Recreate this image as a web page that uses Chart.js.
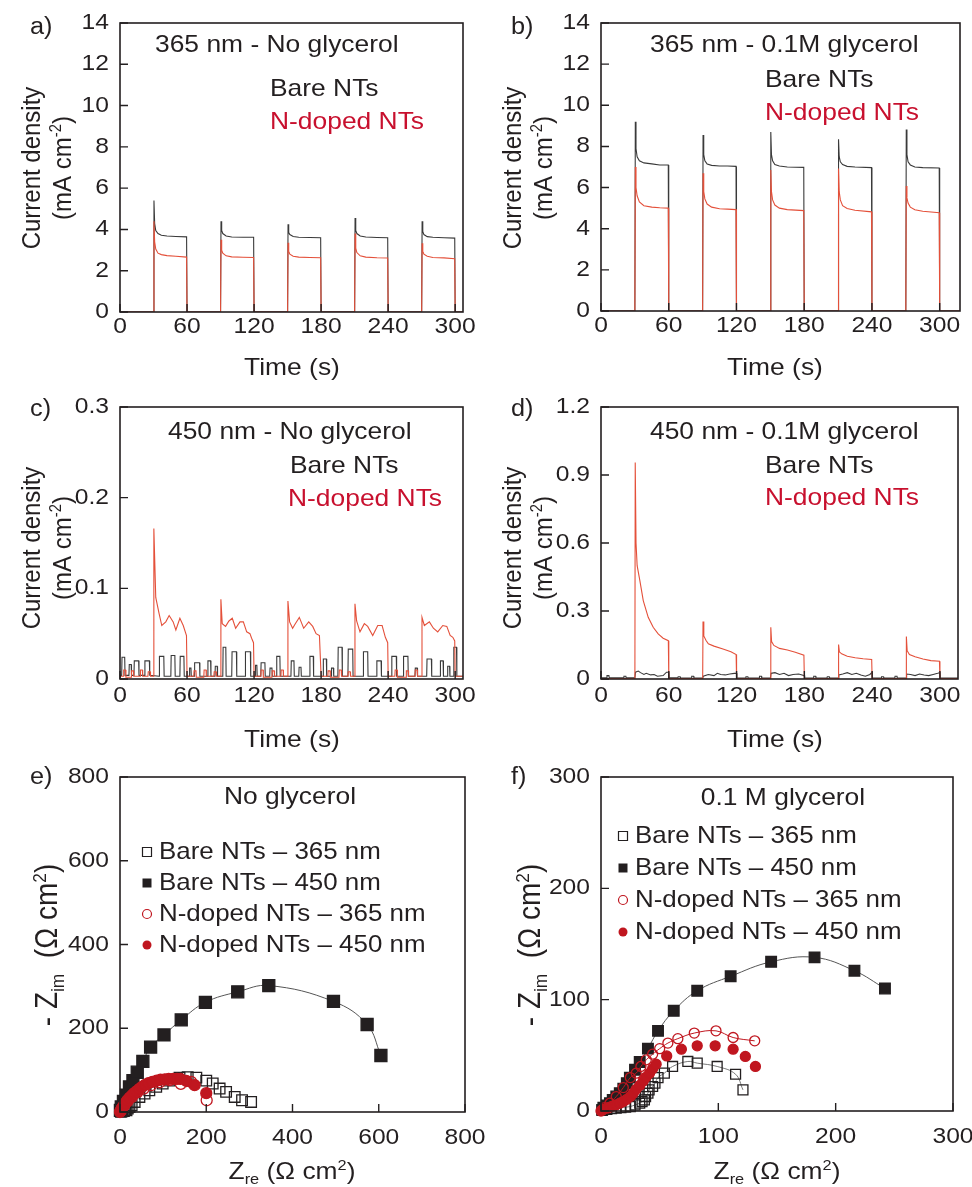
<!DOCTYPE html>
<html>
<head>
<meta charset="utf-8">
<script src="https://cdn.jsdelivr.net/npm/chart.js@4.4.1/dist/chart.umd.min.js"></script>
<style>
html, body { margin: 0; padding: 0; background: #fff; }
#fig { position: relative; width: 972px; height: 1187px; overflow: hidden; }
canvas { position: absolute; }
</style>
</head>
<body>
<div id="fig"></div>
<script>
// ---- tick values ----
const timeTicks = [0, 60, 120, 180, 240, 300];
const yTicksA = [0, 2, 4, 6, 8, 10, 12, 14];
const yTicksC = [0, 0.1, 0.2, 0.3];
const yTicksD = [0, 0.3, 0.6, 0.9, 1.2];
const eisTicksE = [0, 200, 400, 600, 800];
const eisTicksF = [0, 100, 200, 300];

// ---- a) 365 nm, no glycerol : [time s, mA cm-2] ----
const aBare = [[0,0],[30,0],[30.4,5.4],[31,4.3],[32,3.95],[34,3.8],[37,3.72],[42,3.68],[50,3.66],[59.6,3.64],[60,0],
  [90,0],[90.4,4.4],[91,3.95],[92,3.8],[95,3.68],[100,3.63],[110,3.62],[119.6,3.62],[120,0],
  [150,0],[150.4,4.25],[151,3.85],[152,3.75],[155,3.66],[160,3.62],[170,3.61],[179.6,3.6],[180,0],
  [210,0],[210.4,4.55],[211,3.95],[212,3.8],[215,3.68],[220,3.63],[230,3.61],[239.6,3.6],[240,0],
  [270,0],[270.4,4.4],[271,3.9],[272,3.75],[275,3.65],[280,3.62],[290,3.6],[299.6,3.58],[300,0],[307,0]];
const aNdoped = [[0,0],[30,0],[30.4,4.4],[31,3.4],[32,3.05],[34,2.85],[37,2.78],[42,2.73],[50,2.7],[59.6,2.66],[60,0],
  [90,0],[90.4,3.5],[91,3.0],[92,2.85],[95,2.72],[100,2.67],[110,2.65],[119.6,2.64],[120,0],
  [150,0],[150.4,3.35],[151,2.95],[152,2.8],[155,2.7],[160,2.66],[170,2.64],[179.6,2.63],[180,0],
  [210,0],[210.4,3.8],[211,3.1],[212,2.88],[215,2.72],[220,2.66],[230,2.63],[239.6,2.62],[240,0],
  [270,0],[270.4,3.33],[271,2.95],[272,2.8],[275,2.7],[280,2.64],[290,2.62],[299.6,2.58],[300,0],[307,0]];

// ---- b) 365 nm, 0.1 M glycerol ----
const bBare = [[0,0],[30,0],[30.4,9.2],[31,7.9],[32,7.5],[34,7.3],[38,7.2],[45,7.15],[52,7.1],[59.6,7.1],[60,0],
  [90,0],[90.4,8.55],[91,7.6],[92,7.3],[94,7.15],[98,7.08],[105,7.05],[112,7.05],[119.6,7.03],[120,0],
  [150,0],[150.4,8.7],[151,7.6],[152,7.3],[154,7.12],[158,7.05],[165,7.0],[179.6,6.98],[180,0],
  [210,0],[210.4,8.35],[211,7.5],[212,7.25],[214,7.12],[218,7.03],[225,7.0],[239.6,6.97],[240,0],
  [270,0],[270.4,8.82],[271,7.6],[272,7.25],[274,7.1],[278,7.0],[285,6.97],[299.6,6.95],[300,0],[318,0]];
const bNdoped = [[0,0],[30,0],[30.4,7.0],[31,6.0],[32,5.6],[34,5.3],[38,5.12],[45,5.05],[52,5.02],[59.6,5.0],[60,0],
  [90,0],[90.4,6.7],[91,5.8],[92,5.45],[94,5.2],[98,5.05],[105,4.97],[112,4.95],[119.6,4.93],[120,0],
  [150,0],[150.4,6.85],[151,5.8],[152,5.4],[154,5.15],[158,5.0],[165,4.93],[179.6,4.88],[180,0],
  [210,0],[210.4,6.93],[211,5.8],[212,5.4],[214,5.12],[218,4.98],[225,4.9],[239.6,4.82],[240,0],
  [270,0],[270.4,6.08],[271,5.5],[272,5.25],[274,5.05],[278,4.92],[285,4.85],[299.6,4.78],[300,0],[318,0]];

// ---- c) 450 nm, no glycerol ----
const cBare = [[0,0.004],[1.5,0.004],[1.8,0.024],[4.2,0.024],[4.5,0.004],[8,0.004],[8.3,0.016],[10,0.016],[10.3,0.004],
  [12.5,0.004],[12.8,0.02],[16.7,0.02],[17,0.004],[22,0.004],[22.3,0.02],[26.3,0.02],[26.6,0.004],
  [35,0.003],[35.3,0.025],[39.2,0.025],[39.5,0.003],[45.5,0.003],[45.8,0.026],[49.1,0.026],[49.4,0.003],
  [53.6,0.003],[53.9,0.025],[57.2,0.025],[57.5,0.003],[62,0.003],[62.3,0.012],[63.5,0.012],[63.8,0.003],
  [66.5,0.003],[66.8,0.018],[71.2,0.018],[71.5,0.003],[78.4,0.003],[78.7,0.02],[81.1,0.02],[81.4,0.003],
  [85,0.003],[85.3,0.014],[87,0.014],[87.3,0.003],[92,0.003],[92.3,0.035],[94.7,0.035],[95,0.003],
  [100,0.003],[100.3,0.03],[104.2,0.03],[104.5,0.003],[112,0.003],[112.3,0.03],[116.7,0.03],[117,0.003],
  [121,0.003],[121.3,0.015],[122.5,0.015],[122.8,0.003],[126,0.003],[126.3,0.018],[129.7,0.018],[130,0.003],
  [134,0.003],[134.3,0.012],[136,0.012],[136.3,0.003],[140,0.003],[140.3,0.025],[143.1,0.025],[143.4,0.003],
  [153,0.003],[153.3,0.02],[155.7,0.02],[156,0.003],[160,0.003],[160.3,0.013],[162,0.013],[162.3,0.003],
  [169.7,0.003],[170,0.025],[173,0.025],[173.3,0.003],[181.7,0.003],[182,0.022],[184.7,0.022],[185,0.003],
  [189,0.003],[189.3,0.012],[191,0.012],[191.3,0.003],[195,0.003],[195.3,0.035],[198.7,0.035],[199,0.003],
  [204,0.003],[204.3,0.033],[208.3,0.033],[208.6,0.003],[217.6,0.003],[217.9,0.03],[221.7,0.03],[222,0.003],
  [229.6,0.003],[229.9,0.02],[233.7,0.02],[234,0.003],[243,0.003],[243.3,0.025],[247.3,0.025],[247.6,0.003],
  [253.5,0.003],[253.8,0.025],[257.7,0.025],[258,0.003],[264,0.003],[264.3,0.012],[266,0.012],[266.3,0.003],
  [274.5,0.003],[274.8,0.022],[278.7,0.022],[279,0.003],[286.5,0.003],[286.8,0.02],[289.2,0.02],[289.5,0.003],
  [293,0.003],[293.3,0.014],[295,0.014],[295.3,0.003],[298.5,0.003],[298.8,0.035],[301.2,0.035],[301.5,0.003],[307,0.003]];
const cNdoped = [[0,0.003],[3,0.003],[3.3,0.01],[5,0.01],[5.3,0.002],[10,0.002],[10.3,0.009],[12,0.009],[12.3,0.003],
  [18,0.003],[18.3,0.01],[20,0.01],[20.3,0.003],[25,0.003],[25.3,0.008],[27,0.008],[27.3,0.003],[30,0.003],
  [30.3,0.166],[32,0.09],[35,0.072],[37.4,0.059],[41,0.063],[44,0.07],[47.6,0.063],[50,0.054],[53.6,0.067],[56.6,0.059],[59.5,0.048],[60,0.003],
  [66,0.003],[66.3,0.009],[68,0.009],[68.3,0.002],[75,0.002],[75.3,0.01],[77,0.01],[77.3,0.003],[84,0.003],[84.3,0.008],[86,0.008],[86.3,0.003],[90,0.003],
  [90.3,0.088],[91.5,0.061],[94.5,0.058],[97.5,0.064],[100.5,0.067],[103.5,0.056],[107.4,0.063],[110.4,0.063],[113.4,0.052],[116.3,0.05],[117.8,0.045],[119.5,0.04],[120,0.003],
  [126,0.003],[126.3,0.01],[128,0.01],[128.3,0.002],[136,0.002],[136.3,0.009],[138,0.009],[138.3,0.003],[144,0.003],[144.3,0.01],[146,0.01],[146.3,0.003],[150,0.003],
  [150.3,0.086],[151.8,0.063],[154.5,0.056],[156.9,0.061],[160.5,0.068],[164.4,0.056],[168.9,0.063],[172.5,0.058],[175.5,0.05],[178.5,0.048],[180,0.003],
  [186,0.003],[186.3,0.009],[188,0.009],[188.3,0.002],[196,0.002],[196.3,0.01],[198,0.01],[198.3,0.003],[204,0.003],[204.3,0.008],[206,0.008],[206.3,0.003],[210,0.003],
  [210.3,0.083],[211.8,0.064],[214.8,0.052],[218.7,0.061],[221.7,0.058],[226.2,0.048],[230.7,0.059],[234.6,0.059],[237.5,0.046],[239.6,0.04],[240,0.003],
  [246,0.003],[246.3,0.01],[248,0.01],[248.3,0.002],[256,0.002],[256.3,0.009],[258,0.009],[258.3,0.003],[264,0.003],[264.3,0.01],[266,0.01],[266.3,0.003],[270,0.003],
  [270.3,0.068],[272.4,0.059],[276.9,0.063],[280.5,0.056],[284.4,0.052],[288.9,0.059],[292.5,0.058],[295.5,0.048],[297.9,0.046],[299.6,0.042],[300,0.003],[307,0.003]];

// ---- d) 450 nm, 0.1 M glycerol ----
const dBare = [[0,0.005],[5,0.005],[5.3,0.015],[7,0.015],[7.3,0.005],[20,0.005],[20.3,0.012],[22,0.012],[22.3,0.005],[30,0.005],
  [30.5,0.03],[33,0.035],[35,0.028],[38,0.02],[40,0.025],[44,0.018],[47,0.02],[50,0.012],[55,0.015],[58,0.03],[60,0.03],[60.3,0.005],
  [68,0.005],[68.3,0.01],[70,0.01],[70.3,0.004],[80,0.004],[80.3,0.012],[82,0.012],[82.3,0.004],[90,0.004],
  [90.5,0.012],[95,0.02],[100,0.015],[103,0.025],[106,0.02],[110,0.018],[114,0.022],[118,0.025],[120,0.025],[120.3,0.004],
  [128,0.004],[128.3,0.01],[130,0.01],[130.3,0.004],[140,0.004],[140.3,0.012],[142,0.012],[142.3,0.004],[150,0.004],
  [150.5,0.025],[154,0.028],[158,0.02],[162,0.025],[166,0.015],[170,0.02],[175,0.022],[178,0.018],[180,0.015],[180.3,0.004],
  [188,0.004],[188.3,0.012],[190,0.012],[190.3,0.004],[200,0.004],[200.3,0.01],[202,0.01],[202.3,0.004],[210,0.004],
  [210.5,0.018],[214,0.022],[218,0.028],[222,0.02],[226,0.025],[230,0.018],[234,0.012],[238,0.02],[240,0.03],[240.3,0.004],
  [248,0.004],[248.3,0.01],[250,0.01],[250.3,0.004],[260,0.004],[260.3,0.012],[262,0.012],[262.3,0.004],[270,0.004],
  [270.5,0.022],[274,0.02],[278,0.015],[282,0.022],[286,0.018],[290,0.015],[294,0.02],[298,0.025],[300,0.028],[300.3,0.004],[316,0.004]];
const dNdoped = [[0,0.002],[30,0.002],[30.3,0.955],[31,0.6],[32,0.5],[34.4,0.434],[37.4,0.346],[41.8,0.272],[46.2,0.228],[50.6,0.199],[55,0.18],[59.6,0.169],[60,0.002],
  [90,0.002],[90.3,0.254],[91,0.19],[93,0.17],[95,0.155],[100,0.145],[108,0.132],[115,0.12],[119.6,0.108],[120,0.002],
  [150,0.002],[150.3,0.228],[151,0.165],[153,0.148],[158,0.135],[165,0.128],[172,0.118],[179.6,0.105],[180,0.002],
  [210,0.002],[210.3,0.152],[211,0.12],[213,0.111],[218,0.1],[225,0.094],[232,0.089],[239.6,0.086],[240,0.002],
  [270,0.002],[270.3,0.187],[271,0.125],[273,0.108],[278,0.098],[285,0.088],[292,0.081],[299.6,0.078],[300,0.002],[316,0.002]];

// ---- e) EIS, no glycerol : [Zre, -Zim] ----
const eBare365 = [[2,0.5],[5,1.5],[9,2.5],[12,5],[15,4],[18,8],[22,12],[27,16],[34,24],[45,36],[57,44],[68,52],[84,60],[99,68],[115,75],[138,82],[157,83],[177,82],[200,75],[215,68],[231,56],[246,48],[266,36],[283,28],[304,24]];
const eBare450 = [[1,4],[3,12],[8,25],[15,40],[22,60],[30,75],[40,95],[53,121],[71,155],[102,184],[142,220],[198,262],[273,287],[345,302],[495,264],[573,209],[605,135]];
const eNdoped365 = [[1,2],[4,8],[10,16],[18,26],[28,36],[40,47],[55,56],[72,64],[92,71],[115,76],[141,67],[165,72],[201,28]];
const eNdoped450 = [[0,0],[2,4],[5,10],[9,16],[13,22],[17,28],[22,34],[28,40],[33,45],[39,50],[45,55],[51,60],[58,65],[66,69],[75,72],[85,75],[94,77],[104,78],[113,79],[123,79],[132,79],[140,79],[154,74],[173,64],[200,45]];

// ---- f) EIS, 0.1 M glycerol ----
const fBare365 = [[1,0.5],[5,1.5],[9,2],[13,2.5],[17,3],[21,3.5],[25,4],[29,5.5],[33,7],[35,8.5],[37,10],[38,13],[40,16],[41,19],[44,22],[46,25],[48.6,30],[54,34],[61,40],[74,44.5],[82,43],[99,40],[114.7,33],[121,19]];
const fBare450 = [[1,1],[2,3],[5,5],[7.6,7],[10,10],[13,13],[16,16],[19,20],[22,25],[24.6,30],[29,37],[33,44],[40,56],[48.6,72],[62,90],[82,108],[110.5,121],[145,134],[182,138],[216,126],[242,110]];
const fNdoped365 = [[1,1],[3,3],[7.6,7],[13,13],[19,21],[25,30],[30,34],[34,40],[38.6,46],[44,51],[50,56],[57,61],[65.5,65],[79.5,70],[98,72],[112.6,66],[131,63]];
const fNdoped450 = [[0,0],[2,1.5],[5,2.5],[7.6,3.5],[10,4.5],[13,5.5],[16,7],[19,8.5],[22,10.5],[25,13],[27.5,16],[30,19.5],[33,23],[36,27],[38.5,30.5],[41.4,34],[44,38],[47,42],[56,49.5],[68.5,55.5],[82,58.5],[97.3,58.5],[112.6,55.5],[123,49],[131.6,40]];

// ---- look ----
const INK = '#231f20';
const RED_TXT = '#c8102e';
const RED_LINE = '#e4503a';
const RED_MK = '#c0161f';
const FONT = '"Liberation Sans", Arial, Helvetica, sans-serif';
const SX = 1.1; // the figure is a little wider than tall, text too

function txt(ctx, s, x, y, size, color, align, sx) {
    sx = sx || SX;
    ctx.save();
    ctx.font = size + 'px ' + FONT;
    ctx.fillStyle = color || INK;
    ctx.textBaseline = 'middle';
    ctx.textAlign = 'left';
    const w = ctx.measureText(s).width * sx;
    const x0 = align === 'center' ? x - w / 2 : align === 'right' ? x - w : x;
    ctx.translate(x0, y);
    ctx.scale(sx, 1);
    ctx.fillText(s, 0, 0);
    ctx.restore();
}

// parts: [text, mode] with mode 1 = superscript, -1 = subscript
function rich(ctx, parts, x, y, size, rot) {
    ctx.save();
    ctx.translate(x, y);
    ctx.scale(SX, 1);
    if (rot) ctx.rotate(rot);
    ctx.fillStyle = INK;
    ctx.textBaseline = 'alphabetic';
    ctx.textAlign = 'left';
    let total = 0;
    parts.forEach(([t, m]) => {
        ctx.font = (m ? size * 0.62 : size) + 'px ' + FONT;
        total += ctx.measureText(t).width;
    });
    let cx = -total / 2;
    parts.forEach(([t, m]) => {
        ctx.font = (m ? size * 0.62 : size) + 'px ' + FONT;
        const dy = m === 1 ? -size * 0.36 : m === -1 ? size * 0.22 : 0;
        ctx.fillText(t, cx, size * 0.36 + dy);
        cx += ctx.measureText(t).width;
    });
    ctx.restore();
}

function marker(ctx, style, filled, color, x, y, r) {
    ctx.save();
    ctx.strokeStyle = color;
    ctx.fillStyle = color;
    ctx.lineWidth = 1.2;
    ctx.beginPath();
    if (style === 'rect') ctx.rect(x - r, y - r, 2 * r, 2 * r);
    else ctx.arc(x, y, r, 0, Math.PI * 2);
    if (filled) ctx.fill(); else ctx.stroke();
    ctx.restore();
}

// frame, inward ticks, labels, titles, notes and legend
const deco = {
    id: 'deco',
    afterDraw(chart) {
        const p = chart.canvas.panel;
        const ctx = chart.ctx, a = chart.chartArea;
        const ox = p.box[0], oy = p.box[1];
        const xs = chart.scales.x, ys = chart.scales.y;
        ctx.save();
        ctx.strokeStyle = INK;
        ctx.lineWidth = 1.6;
        ctx.strokeRect(a.left, a.top, a.right - a.left, a.bottom - a.top);
        ctx.lineWidth = 1.4;
        ctx.beginPath();
        xs.ticks.forEach(t => {
            const px = xs.getPixelForValue(t.value);
            ctx.moveTo(px, a.bottom); ctx.lineTo(px, a.bottom - 8);
        });
        ys.ticks.forEach(t => {
            const py = ys.getPixelForValue(t.value);
            ctx.moveTo(a.left, py); ctx.lineTo(a.left + 8, py);
        });
        ctx.stroke();
        ctx.restore();

        xs.ticks.forEach(t => txt(ctx, String(t.value), xs.getPixelForValue(t.value), a.bottom + p.xLabGap, 22, INK, 'center', 1.12));
        ys.ticks.forEach(t => txt(ctx, String(t.value), a.left - p.yLabGap, ys.getPixelForValue(t.value), 22, INK, 'right', 1.12));

        txt(ctx, p.tag, p.tagPos[0] - ox, p.tagPos[1] - oy, 23, INK, 'left');
        rich(ctx, p.xTitle, p.xTitlePos[0] - ox, p.xTitlePos[1] - oy, 24, 0);
        p.yTitle.forEach((line, i) => rich(ctx, line, p.yTitlePos[i][0] - ox, p.yTitlePos[i][1] - oy, p.yTitleSize || 24, -Math.PI / 2));
        p.notes.forEach(n => txt(ctx, n[0], n[1] - ox, n[2] - oy, 24, n[3], n[4] || 'left'));

        if (p.legend) {
            const L = p.legend;
            L.rows.forEach((row, i) => {
                const ds = chart.data.datasets[row];
                const y = L.y - oy + i * L.dy;
                const filled = ds.pointBackgroundColor !== 'transparent';
                marker(ctx, ds.pointStyle, filled, ds.pointBorderColor, L.x - ox, y, 4.5);
                txt(ctx, ds.label, L.x - ox + 12, y, 24, INK, 'left', 1.08);
            });
        }
    }
};

function lineSet(label, data, color) {
    return { label, data, showLine: true, borderColor: color, borderWidth: 1.1, pointRadius: 0, tension: 0 };
}
function eisSet(label, data, style, filled, color, r, order, line) {
    return {
        label, data, order, pointStyle: style, pointRadius: r,
        pointBackgroundColor: filled ? color : 'transparent', pointBorderColor: color, pointBorderWidth: 1.3,
        showLine: !!line, borderColor: line || color, borderWidth: 1, tension: 0.4, clip: false
    };
}

const yTitleTime = [[['Current density', 0]], [['(mA cm', 0], ['-2', 1], [')', 0]]];
const xTitleTime = [['Time (s)', 0]];
const yTitleEis = [[['- Z', 0], ['im', -1], ['  (\u03a9 cm', 0], ['2', 1], [')', 0]]];
const xTitleEis = [['Z', 0], ['re', -1], [' (\u03a9 cm', 0], ['2', 1], [')', 0]];

const panels = [
    { tag: 'a)', tagPos: [30, 28], box: [0, 0, 486, 390], plot: [120, 23, 463, 312],
      xMin: 0, xMax: 307, xTicks: timeTicks, yMin: 0, yMax: 14, yTicks: yTicksA, xLabGap: 15, yLabGap: 11,
      xTitle: xTitleTime, xTitlePos: [292, 366], yTitle: yTitleTime, yTitlePos: [[30, 168], [61, 168]],
      notes: [['365 nm - No glycerol', 155, 45, INK], ['Bare NTs', 270, 89, INK], ['N-doped NTs', 270, 122, RED_TXT]],
      datasets: [lineSet('N-doped NTs', aNdoped, RED_LINE), lineSet('Bare NTs', aBare, '#3a3a3a')] },
    { tag: 'b)', tagPos: [511, 28], box: [486, 0, 486, 390], plot: [601, 23, 960, 311],
      xMin: 0, xMax: 318, xTicks: timeTicks, yMin: 0, yMax: 14, yTicks: yTicksA, xLabGap: 15, yLabGap: 11,
      xTitle: xTitleTime, xTitlePos: [775, 366], yTitle: yTitleTime, yTitlePos: [[511, 168], [542, 168]],
      notes: [['365 nm - 0.1M glycerol', 650, 45, INK], ['Bare NTs', 765, 80, INK], ['N-doped NTs', 765, 113, RED_TXT]],
      datasets: [lineSet('N-doped NTs', bNdoped, RED_LINE), lineSet('Bare NTs', bBare, '#3a3a3a')] },
    { tag: 'c)', tagPos: [30, 410], box: [0, 385, 486, 385], plot: [120, 407, 463, 679],
      xMin: 0, xMax: 307, xTicks: timeTicks, yMin: 0, yMax: 0.3, yTicks: yTicksC, xLabGap: 17, yLabGap: 11,
      xTitle: xTitleTime, xTitlePos: [292, 738], yTitle: yTitleTime, yTitlePos: [[30, 548], [61, 548]],
      notes: [['450 nm - No glycerol', 168, 432, INK], ['Bare NTs', 290, 466, INK], ['N-doped NTs', 288, 499, RED_TXT]],
      datasets: [lineSet('N-doped NTs', cNdoped, RED_LINE), lineSet('Bare NTs', cBare, '#3a3a3a')] },
    { tag: 'd)', tagPos: [511, 410], box: [486, 385, 486, 385], plot: [601, 407, 958, 679],
      xMin: 0, xMax: 316, xTicks: timeTicks, yMin: 0, yMax: 1.2, yTicks: yTicksD, xLabGap: 17, yLabGap: 11,
      xTitle: xTitleTime, xTitlePos: [775, 738], yTitle: yTitleTime, yTitlePos: [[511, 548], [542, 548]],
      notes: [['450 nm - 0.1M glycerol', 650, 432, INK], ['Bare NTs', 765, 466, INK], ['N-doped NTs', 765, 498, RED_TXT]],
      datasets: [lineSet('N-doped NTs', dNdoped, RED_LINE), lineSet('Bare NTs', dBare, '#3a3a3a')] },
    { tag: 'e)', tagPos: [30, 778], box: [0, 755, 486, 432], plot: [120, 777, 465, 1112],
      xMin: 0, xMax: 800, xTicks: eisTicksE, yMin: 0, yMax: 800, yTicks: eisTicksE, xLabGap: 26, yLabGap: 11,
      xTitle: xTitleEis, xTitlePos: [292, 1170], yTitle: yTitleEis, yTitlePos: [[46, 945]], yTitleSize: 28,
      notes: [['No glycerol', 290, 797, INK, 'center']],
      legend: { x: 147, y: 852, dy: 31, rows: [0, 1, 2, 3] },
      datasets: [
          eisSet('Bare NTs \u2013 365 nm', eBare365, 'rect', false, INK, 7.5, 4),
          eisSet('Bare NTs \u2013 450 nm', eBare450, 'rect', true, INK, 8.5, 3, '#555'),
          eisSet('N-doped NTs \u2013 365 nm', eNdoped365, 'circle', false, RED_MK, 5.5, 2),
          eisSet('N-doped NTs \u2013 450 nm', eNdoped450, 'circle', true, RED_MK, 5.5, 1)] },
    { tag: 'f)', tagPos: [511, 778], box: [486, 755, 486, 432], plot: [601, 777, 953, 1111],
      xMin: 0, xMax: 300, xTicks: eisTicksF, yMin: 0, yMax: 300, yTicks: eisTicksF, xLabGap: 26, yLabGap: 11,
      xTitle: xTitleEis, xTitlePos: [777, 1170], yTitle: yTitleEis, yTitlePos: [[529, 945]], yTitleSize: 28,
      notes: [['0.1 M glycerol', 783, 798, INK, 'center']],
      legend: { x: 623, y: 836, dy: 32, rows: [0, 1, 2, 3] },
      datasets: [
          eisSet('Bare NTs \u2013 365 nm', fBare365, 'rect', false, INK, 7, 4, '#777'),
          eisSet('Bare NTs \u2013 450 nm', fBare450, 'rect', true, INK, 7.5, 3, '#555'),
          eisSet('N-doped NTs \u2013 365 nm', fNdoped365, 'circle', false, RED_MK, 5, 2, RED_MK),
          eisSet('N-doped NTs \u2013 450 nm', fNdoped450, 'circle', true, RED_MK, 5, 1)] }
];

const fig = document.getElementById('fig');
panels.forEach(p => {
    const [bx, by, bw, bh] = p.box;
    const [L, T, R, B] = p.plot;
    const cv = document.createElement('canvas');
    cv.width = bw; cv.height = bh;
    cv.style.left = bx + 'px'; cv.style.top = by + 'px';
    cv.style.width = bw + 'px'; cv.style.height = bh + 'px';
    cv.panel = p;
    fig.appendChild(cv);
    new Chart(cv, {
        type: 'scatter',
        data: { datasets: p.datasets },
        options: {
            responsive: false,
            animation: false,
            devicePixelRatio: 1,
            layout: { autoPadding: false, padding: { top: T - by, right: bx + bw - R, left: 0, bottom: 0 } },
            plugins: { legend: { display: false }, tooltip: { enabled: false } },
            scales: {
                x: {
                    type: 'linear', min: p.xMin, max: p.xMax,
                    grid: { display: false }, border: { display: false }, ticks: { display: false },
                    afterBuildTicks: s => { s.ticks = p.xTicks.map(v => ({ value: v })); },
                    afterFit: s => { s.height = by + bh - B; }
                },
                y: {
                    type: 'linear', min: p.yMin, max: p.yMax,
                    grid: { display: false }, border: { display: false }, ticks: { display: false },
                    afterBuildTicks: s => { s.ticks = p.yTicks.map(v => ({ value: v })); },
                    afterFit: s => { s.width = L - bx; }
                }
            }
        },
        plugins: [deco]
    });
});
</script>
</body>
</html>
